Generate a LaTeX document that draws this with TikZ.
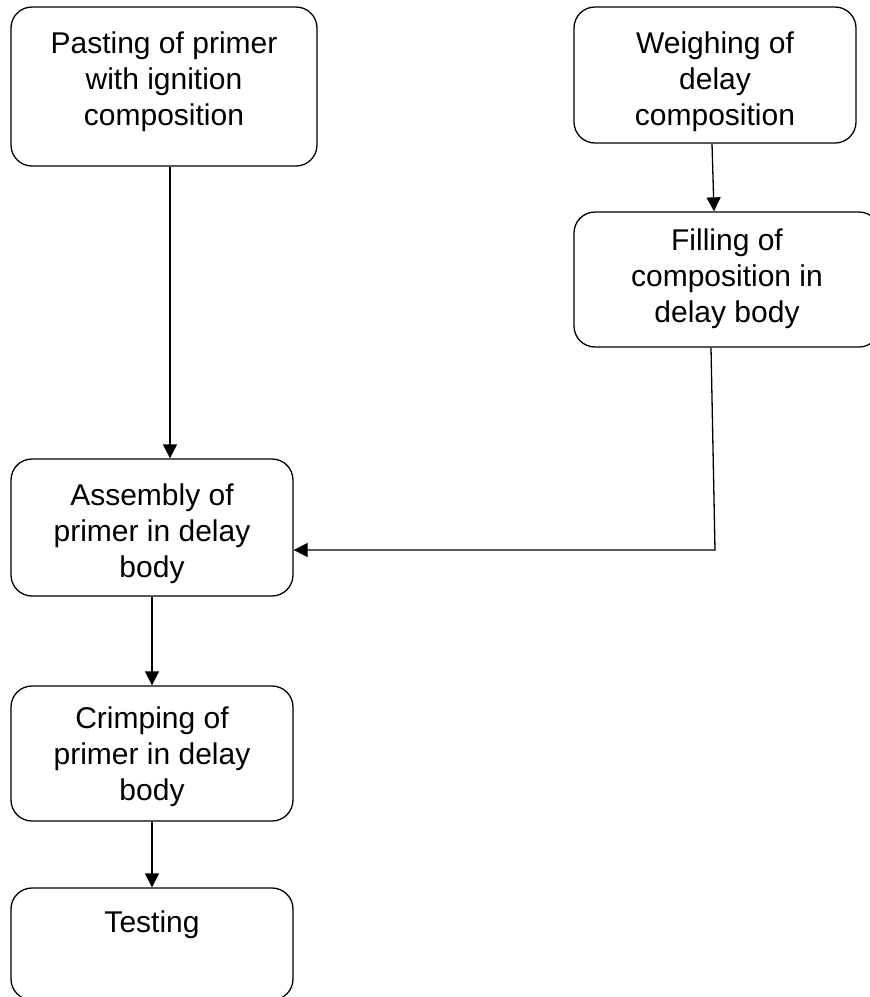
\documentclass[tikz,border=0pt]{standalone}
\usepackage{fontspec}
\setmainfont{Liberation Sans}
\usetikzlibrary{arrows.meta}
\begin{document}
\begin{tikzpicture}[x=1pt,y=-1pt,
  box/.style={draw=black, line width=1.3pt, rounded corners=21pt, inner sep=0pt, fill=white},
  txt/.style={inner sep=0pt, align=center, font=\fontsize{30}{36}\selectfont, anchor=north},
  arr/.style={draw=black, line width=1.3pt, -{Triangle[width=14pt,length=14pt]}}]
\useasboundingbox (0,0) rectangle (870,997);
% boxes
\node[box, minimum width=306pt, minimum height=159pt] (b1) at (164,86.5) {};
\node[box, minimum width=282pt, minimum height=136pt] (b2) at (715,75) {};
\node[box, minimum width=306pt, minimum height=135pt] (b3) at (727,279.5) {};
\node[box, minimum width=282pt, minimum height=137pt] (b4) at (152,527.5) {};
\node[box, minimum width=282pt, minimum height=135pt] (b5) at (152,753.5) {};
\node[box, minimum width=282pt, minimum height=112pt] (b6) at (152,944) {};
% texts
\node[txt] (t1) at ([yshift=-25pt]b1.north) {Pasting of primer\\with ignition\\composition};
\node[txt] (t2) at ([yshift=-25pt]b2.north) {Weighing of\\delay\\composition};
\node[txt] (t3) at ([yshift=-17pt]b3.north) {Filling of\\composition in\\delay body};
\node[txt] (t4) at ([yshift=-25pt]b4.north) {Assembly of\\primer in delay\\body};
\node[txt] (t5) at ([yshift=-21pt]b5.north) {Crimping of\\primer in delay\\body};
\node[txt] (t6) at ([yshift=-23pt]b6.north) {Testing};
% connectors
\coordinate (c1) at (715,550);
\draw[arr] ([xshift=6pt]b1.south) -- ([xshift=18pt]b4.north);
\draw[arr] ([xshift=-3pt]b2.south) -- ([xshift=-13pt]b3.north);
\draw[arr] ([xshift=-16pt]b3.south) -- (c1) -- ([yshift=-22.5pt]b4.east);
\draw[arr] (b4.south) -- (b5.north);
\draw[arr] (b5.south) -- (b6.north);
\end{tikzpicture}
\end{document}
